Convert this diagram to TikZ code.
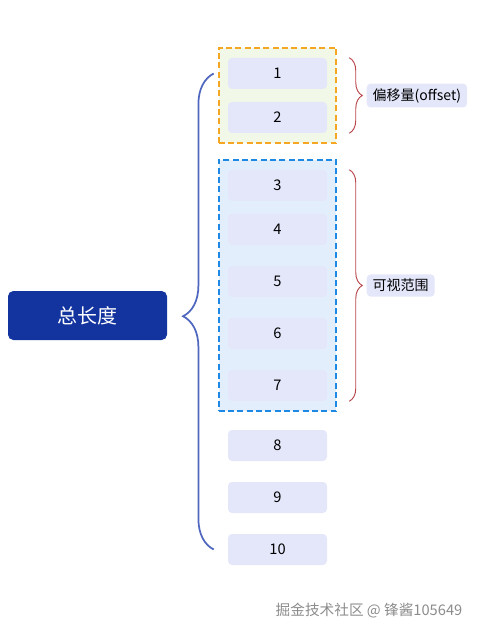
\documentclass[tikz,border=0pt]{standalone}
\usepackage{fontspec}
\setmainfont{Noto Sans CJK SC}
\usepackage{tikz}
\usetikzlibrary{calc,positioning,fit,backgrounds,decorations.pathreplacing}
\definecolor{rootblue}{HTML}{13349E}
\definecolor{trunkblue}{HTML}{4F67BE}
\definecolor{cellfill}{HTML}{E4E7FA}
\definecolor{offsetline}{HTML}{F5A623}
\definecolor{offsetfill}{HTML}{F2F8E7}
\definecolor{viewline}{HTML}{1E88E5}
\definecolor{viewfill}{HTML}{E3EEFC}
\definecolor{bracered}{HTML}{B8454A}
\definecolor{markgray}{HTML}{8C8C8C}
\tikzset{
  cell/.style={
    fill=cellfill,
    rounded corners=3pt,
    minimum width=74.25pt,
    minimum height=23.25pt,
    inner sep=0pt,
    font=\fontsize{11}{13}\selectfont
  },
  tag/.style={
    fill=cellfill,
    rounded corners=3pt,
    inner xsep=4.5pt,
    inner ysep=3.5pt,
    font=\fontsize{10.5}{12}\selectfont
  },
  rangebrace/.style={
    draw=bracered,
    line width=0.7pt,
    decorate,
    decoration={brace,amplitude=9.75pt}
  }
}

\begin{document}
\begin{tikzpicture}[
  x=0.75pt, y=-0.75pt,
  rootbox/.style={
    fill=rootblue,
    text=white,
    rounded corners=4pt,
    minimum width=119.25pt,
    minimum height=36.75pt,
    font=\fontsize{15}{18}\selectfont
  },
  trunk/.style={
    draw=trunkblue,
    line width=1.3pt,
    decorate,
    decoration={brace,amplitude=23pt,aspect=0.49}
  },
  offsetframe/.style={
    draw=offsetline, fill=offsetfill,
    line width=1.5pt, dash pattern=on 4.5pt off 2.5pt,
    inner xsep=6.75pt, inner ysep=7.5pt
  },
  viewframe/.style={
    draw=viewline, fill=viewfill,
    line width=1.5pt, dash pattern=on 4.5pt off 2.5pt,
    inner xsep=6.75pt, inner ysep=7.5pt
  }
]
  \useasboundingbox (0,0) rectangle (483,641);

  \node[rootbox] (total) at (87.5,315.5) {总长度};

  \node[cell] (c1) at (277.5,73.5) {1};
  \node[cell] (c2) at (277.5,117.5) {2};
  \node[cell] (c3) at (277.5,185.5) {3};
  \node[cell] (c4) at (277.5,229.5) {4};
  \node[cell] (c5) at (277.5,281.5) {5};
  \node[cell] (c6) at (277.5,333.5) {6};
  \node[cell] (c7) at (277.5,385.5) {7};
  \node[cell] (c8) at (277.5,445.5) {8};
  \node[cell] (c9) at (277.5,497.5) {9};
  \node[cell] (c10) at (277.5,549.5) {10};

  \begin{scope}[on background layer]
    \node[offsetframe, fit=(c1) (c2)] (offset) {};
    \node[viewframe, fit=(c3) (c7)] (view) {};
  \end{scope}

  % trunk brace from total to the cells
  \coordinate (trunktop) at ($(c1.west)+(-14,0)$);
  \coordinate (trunkbot) at ($(c10.west)+(-14,0)$);
  \draw[trunk] (trunkbot) -- (trunktop);

  % ranges on the right
  \draw[rangebrace] ($(c1.north east)+(22,0)$) -- node[tag, right=12.75pt] (offsettag) {偏移量(offset)} ($(c2.south east)+(22,0)$);
  \draw[rangebrace] ($(c3.north east)+(22,0)$) -- node[tag, right=12.75pt] (viewtag) {可视范围} ($(c7.south east)+(22,0)$);

  \node[text=markgray, anchor=east, font=\fontsize{11}{13}\selectfont] (mark) at (467,611) {掘金技术社区 @ 锋酱105649};
\end{tikzpicture}
\end{document}
